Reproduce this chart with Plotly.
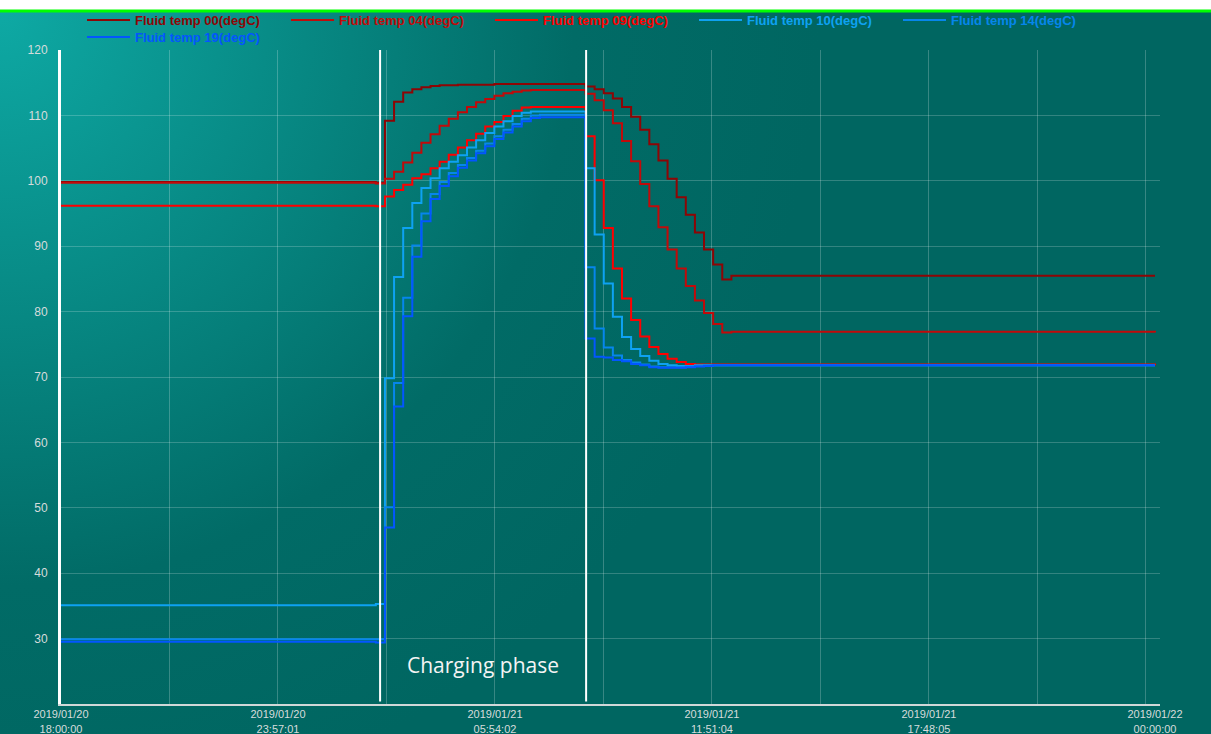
import base64
import pandas as pd
import plotly.graph_objects as go

# ---- sample timestamps -------------------------------------------------
RUN_START = "2019-01-20 18:00:00"
PRE_END = "2019-01-21 02:38:00"
STEP_START = "2019-01-21 02:53:00"      # first 15-min sample of the charge
N_STEPS = 39
RUN_END = "2019-01-22 00:00:00"

step_times = list(pd.date_range(STEP_START, periods=N_STEPS, freq="15min"))
times = [pd.Timestamp(RUN_START), pd.Timestamp(PRE_END)] + step_times + [pd.Timestamp(RUN_END)]

# ---- fluid temperatures (degC) ----------------------------------------
fluid_00 = [99.8, 99.7,
            109.2, 112.1, 113.5, 114.0, 114.3, 114.5, 114.6, 114.6, 114.7, 114.7, 114.7,
            114.7, 114.8, 114.8, 114.8, 114.8, 114.8, 114.8, 114.8, 114.8, 114.8, 114.8,
            114.4, 114.0, 113.4, 112.6, 111.3, 109.8, 107.8, 105.6, 103.1, 100.3, 97.5,
            94.8, 92.1, 89.5, 87.2, 84.9, 85.5,
            85.5]
fluid_04 = [99.7, 99.6,
            100.3, 101.4, 102.8, 104.3, 105.8, 107.1, 108.4, 109.5, 110.5, 111.3, 112.0,
            112.5, 113.0, 113.4, 113.6, 113.8, 113.9, 113.9, 113.9, 113.9, 113.9, 113.9,
            113.3, 112.3, 110.8, 108.8, 106.1, 103.0, 99.5, 96.1, 92.9, 89.5, 86.6,
            83.9, 81.7, 79.8, 78.1, 76.8, 76.9,
            76.8]
fluid_09 = [96.2, 96.1,
            97.6, 98.6, 99.4, 100.4, 101.0, 101.9, 102.9, 104.0, 105.1, 106.2, 107.2,
            108.3, 109.0, 109.9, 110.7, 111.2, 111.3, 111.3, 111.3, 111.3, 111.3, 111.3,
            106.8, 100.1, 92.8, 86.6, 82.0, 78.7, 76.2, 74.6, 73.5, 72.8, 72.3,
            72.0, 71.9, 71.9, 71.9, 71.9, 71.9,
            71.8]
fluid_10 = [35.1, 35.3,
            69.8, 85.3, 92.8, 96.6, 98.9, 100.4, 101.9, 102.9, 103.9, 105.1, 106.2,
            107.3, 108.3, 109.1, 109.9, 110.4, 110.6, 110.6, 110.6, 110.6, 110.6, 110.6,
            101.9, 91.8, 84.3, 79.2, 76.1, 74.3, 73.2, 72.5, 72.0, 71.8, 71.7,
            71.7, 71.8, 71.8, 71.8, 71.8, 71.8,
            71.8]
fluid_14 = [29.9, 29.9,
            50.1, 69.1, 82.1, 90.1, 95.0, 98.0, 99.8, 101.2, 102.4, 103.5, 104.6,
            105.7, 106.8, 107.8, 108.7, 109.5, 110.0, 110.1, 110.1, 110.1, 110.1, 110.1,
            86.8, 77.4, 74.5, 73.3, 72.6, 72.2, 71.9, 71.6, 71.5, 71.5, 71.5,
            71.6, 71.7, 71.8, 71.8, 71.8, 71.8,
            71.8]
fluid_19 = [29.5, 29.4,
            47.0, 65.5, 79.3, 88.4, 93.8, 97.2, 99.2, 100.7, 102.0, 103.1, 104.2,
            105.3, 106.4, 107.4, 108.3, 109.1, 109.6, 109.7, 109.7, 109.7, 109.7, 109.7,
            75.9, 73.1, 73.0, 72.6, 72.4, 72.0, 71.8, 71.5, 71.4, 71.4, 71.4,
            71.5, 71.6, 71.7, 71.8, 71.8, 71.8,
            71.8]

series_names = ["Fluid temp 00(degC)", "Fluid temp 04(degC)", "Fluid temp 09(degC)",
                "Fluid temp 10(degC)", "Fluid temp 14(degC)", "Fluid temp 19(degC)"]
series_values = [fluid_00, fluid_04, fluid_09, fluid_10, fluid_14, fluid_19]
series_colors = ["#8e0505", "#c20a0a", "#ff0000", "#0ea2f2", "#0686ec", "#0356ff"]
legend_rows = ["legend", "legend", "legend", "legend", "legend", "legend2"]

# ---- axis ticks ---------------------------------------------------------
y_tick_vals = [30, 40, 50, 60, 70, 80, 90, 100, 110, 120]
x_tick_times = ["2019-01-20 18:00:00", "2019-01-20 23:57:01", "2019-01-21 05:54:02",
                "2019-01-21 11:51:04", "2019-01-21 17:48:05", "2019-01-22 00:00:00"]
x_tick_text = ["2019/01/20<br>18:00:00", "2019/01/20<br>23:57:01", "2019/01/21<br>05:54:02",
               "2019/01/21<br>11:51:04", "2019/01/21<br>17:48:05", "2019/01/22<br>00:00:00"]
GRID_STEP_MS = (2 * 3600 + 58 * 60 + 30.5) * 1000

CHARGE_ON = "2019-01-21 02:45:00"
CHARGE_OFF = "2019-01-21 08:24:00"
PHASE_LABEL = "Charging phase"

fig = go.Figure()
for name, vals, col, lg in zip(series_names, series_values, series_colors, legend_rows):
    fig.add_trace(go.Scatter(
        x=times, y=vals, mode="lines", line=dict(color=col, width=2, shape="hv"),
        name=f"<b><span style='color:{col}'>{name}</span></b>", legend=lg,
    ))

# teal backdrop with a soft glow from the upper-left corner
svg = """<svg xmlns='http://www.w3.org/2000/svg' width='1211' height='722' viewBox='0 0 1211 722' preserveAspectRatio='none'>
<defs><radialGradient id='g' gradientUnits='userSpaceOnUse' cx='0' cy='0' r='820'>
<stop offset='0' stop-color='#0ea9a4'/><stop offset='0.7' stop-color='#016b66'/>
<stop offset='1' stop-color='#006661'/></radialGradient></defs>
<rect width='1211' height='722' fill='#006661'/><rect width='1211' height='722' fill='url(#g)'/></svg>"""
bg_src = "data:image/svg+xml;base64," + base64.b64encode(svg.encode()).decode()

W, H = 1211, 734
L, R, T, B = 61, 51, 50, 30
pw, ph = W - L - R, H - T - B


def px_x(v):
    return (v - L) / pw


def px_y(v):
    return (H - B - v) / ph


fig.add_layout_image(dict(
    source=bg_src, xref="paper", yref="paper",
    x=px_x(0), y=px_y(12), sizex=W / pw, sizey=(H - 12) / ph,
    xanchor="left", yanchor="top", sizing="stretch", layer="below",
))
# bright strip along the top edge
fig.add_shape(type="rect", xref="paper", yref="paper",
              x0=px_x(0), x1=px_x(W), y0=px_y(12.5), y1=px_y(9.5),
              fillcolor="#00ff00", line=dict(width=0), layer="below")

# start / end of charging
for t in (CHARGE_ON, CHARGE_OFF):
    fig.add_shape(type="line", xref="x", yref="y", x0=t, x1=t, y0=20.4, y1=120.0,
                  line=dict(color="#ffffff", width=2), layer="above")

fig.add_annotation(x="2019-01-21 05:34:00", y=26.0, xref="x", yref="y",
                   text=PHASE_LABEL, showarrow=False,
                   font=dict(family="Open Sans", size=21, color="#f4f4f4"))

y_tick_font = dict(family="Liberation Sans, Arial", size=12, color="#d6dcdc")
x_tick_font = dict(family="Liberation Sans, Arial", size=11, color="#d6dcdc")
legend_common = dict(
    orientation="h", xref="container", yref="container",
    xanchor="left", yanchor="top",
    entrywidth=146, entrywidthmode="pixels", itemwidth=43,
    font=dict(family="Liberation Sans, Arial", size=13),
    bgcolor="rgba(0,0,0,0)", borderwidth=0,
)
fig.update_layout(
    width=W, height=H,
    margin=dict(l=L, r=R, t=T, b=B, autoexpand=False),
    paper_bgcolor="#ffffff",
    plot_bgcolor="rgba(0,0,0,0)",
    showlegend=True,
    legend=dict(legend_common, x=82 / W, y=1 - 5 / H),
    legend2=dict(legend_common, x=82 / W, y=1 - 22 / H),
    xaxis=dict(
        type="date",
        range=["2019-01-20 18:00:00", "2019-01-22 00:08:13"],
        tickmode="array", tickvals=x_tick_times, ticktext=x_tick_text,
        showgrid=False, ticks="", tickfont=x_tick_font, ticklabelstandoff=-1,
        showline=True, linecolor="#d0d8d8", linewidth=2,
        zeroline=False,
        minor=dict(tick0="2019-01-20 18:00:00", dtick=GRID_STEP_MS, showgrid=True,
                   gridcolor="rgba(255,255,255,0.22)", gridwidth=1, ticks=""),
    ),
    yaxis=dict(
        range=[20, 120], tickmode="array", tickvals=y_tick_vals,
        showgrid=True, gridcolor="rgba(255,255,255,0.2)", gridwidth=1,
        tickfont=y_tick_font, ticks="", ticklabelstandoff=8,
        showline=True, linecolor="#ffffff", linewidth=3, zeroline=False,
    ),
)

fig.write_html("out.html")
